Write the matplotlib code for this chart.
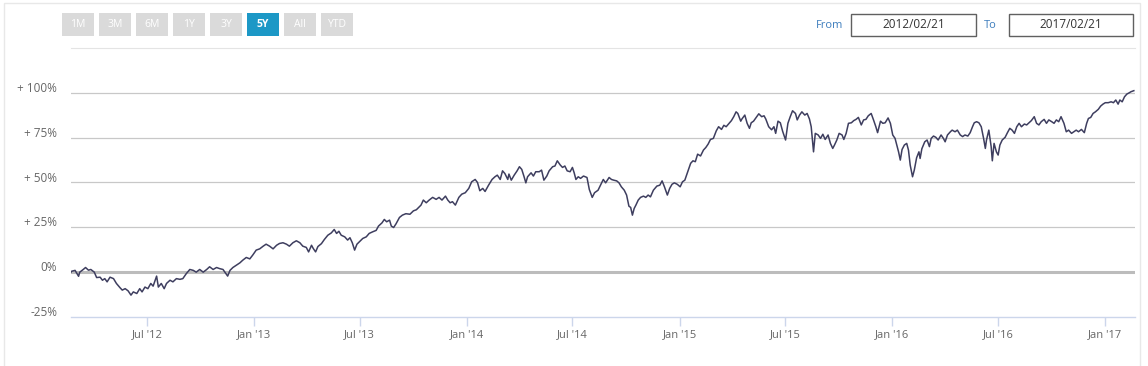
import matplotlib
matplotlib.use("Agg")
import matplotlib.dates as mdates
import matplotlib.pyplot as plt
import matplotlib.transforms as mtransforms
from matplotlib.patches import Rectangle
import pandas as pd

# cumulative performance, % vs start
start_date = "2012-02-21"
end_date = "2017-02-21"

days_2012 = [0, 1, 7, 13, 15, 21, 25, 30, 34, 40, 44, 50, 54, 58, 62, 67, 73, 78, 84, 88, 93,
             98, 103, 107, 113, 118, 122, 127, 132, 137, 141, 147, 150, 155, 160, 164, 170, 175,
             181, 187, 192, 198, 204, 210, 215, 221, 227, 233, 238, 244, 250, 255, 261, 269, 273,
             278, 284, 290, 295, 301, 307, 312, 318, 324, 330, 335, 341, 347, 353, 358]
pct_2012 = [0, 0.5, 1, -2.3, 0, 1.5, 2.6, 1.1, 1.5, 0, -3, -2.8, -4.5, -3.6, -5.4, -2.8, -3.6, -6.3,
            -8.6, -10, -9.2, -10.4, -12.8, -11, -11.9, -9.2, -11, -8.3, -9.2, -6.3, -7.8, -2.2,
            -8.3, -6.3, -9.2, -6.3, -4.5, -5.4, -3.6, -4, -3.6, -0.8, 1.5, 1, 0, 1.5, 0, 1.5, 3,
            1.5, 2.6, 2, 1.5, -2.2, 1, 2.6, 3.9, 5.2, 6.7, 8.2, 7.4, 9.5, 12.3, 13, 14.5, 15.6,
            14.5, 13, 15, 16]

days_2013 = [364, 370, 375, 381, 387, 393, 398, 404, 408, 413, 416, 420, 424, 430, 435, 441, 447,
             452, 456, 460, 464, 470, 475, 479, 483, 487, 491, 495, 501, 507, 512, 518, 524, 528,
             534, 538, 542, 547, 550, 554, 558, 564, 569, 575, 582, 588, 593, 597, 601, 605, 610,
             615, 621, 627, 632, 637, 643, 647, 651, 655, 660, 666, 671, 677, 683, 688, 694, 698,
             702, 707, 711, 717, 723, 728]
pct_2013 = [16.4, 15.6, 14.5, 16.4, 17.5, 16.4, 14.5, 13.8, 11.3, 15, 13.2, 11.3, 14.3, 15.9,
            18.2, 20.6, 21.9, 23.8, 21.6, 22.8, 20.6, 19.7, 17.9, 19.2, 16.4, 12.3, 15.6, 16.9,
            18.8, 19.7, 21.6, 22.5, 23.3, 25.7, 27.5, 29.4, 28.1, 29, 25.7, 24.9, 26.9, 30.5,
            31.8, 32.6, 32.3, 34.2, 34.8, 36.1, 37.4, 40.2, 38.7, 40.2, 41.7, 40.6, 41.7, 40.2,
            42.4, 40.2, 38.7, 39.3, 37.4, 41.7, 43.5, 44.3, 46.7, 50.4, 51.7, 50, 45.4, 46.7,
            45, 48.5, 51.7, 53.2]

days_2014 = [732, 737, 741, 745, 750, 752, 756, 761, 766, 770, 774, 778, 781, 784, 790, 794, 798,
             804, 808, 812, 817, 821, 827, 831, 835, 840, 844, 848, 852, 857, 861, 864, 867, 871,
             875, 880, 886, 890, 895, 899, 905, 910, 914, 918, 924, 928, 932, 937, 941, 945, 950,
             954, 958, 961, 964, 967, 970, 974, 978, 983, 987, 991, 995, 1000, 1006, 1011, 1015,
             1019, 1024, 1028, 1032, 1036, 1041, 1046, 1050, 1054, 1058, 1064, 1068, 1072, 1076,
             1081, 1086, 1090, 1094, 1098, 1103]
pct_2014 = [54.1, 51.7, 56.5, 55, 51.7, 54.7, 51.3, 54.1, 56.5, 58.8, 57.3, 53.2, 49.8, 53.2,
            55.4, 53.6, 56, 56, 56.9, 51.3, 53.6, 56.5, 58.8, 59.2, 62.1, 59.8, 58.4, 59.2, 56.5,
            56, 58.4, 55.4, 51.7, 53.2, 52.3, 53.6, 52.8, 46.1, 41.7, 44.3, 45.7, 49, 51.7, 49.8,
            52.8, 51.7, 51.3, 50.9, 49.8, 47.6, 45.7, 43, 36.8, 36.1, 31.8, 35.5, 37.4, 40.2,
            41.7, 42.4, 41.7, 43, 42, 45.7, 48, 48.5, 50.9, 47.6, 43, 46.7, 49, 49.8, 49, 47.6,
            50.4, 51.3, 55.1, 60.7, 62.1, 61.6, 65.8, 64.8, 68.1, 69.5, 71.4, 74, 74.6]

days_2015 = [1108, 1112, 1117, 1121, 1125, 1130, 1134, 1138, 1142, 1145, 1150, 1152, 1157, 1161,
             1165, 1168, 1172, 1176, 1181, 1186, 1190, 1193, 1198, 1203, 1207, 1210, 1214, 1218,
             1222, 1227, 1231, 1235, 1239, 1244, 1247, 1251, 1255, 1260, 1264, 1268, 1271, 1275,
             1278, 1283, 1287, 1291, 1295, 1300, 1304, 1308, 1311, 1315, 1319, 1324, 1327, 1331,
             1335, 1340, 1344, 1348, 1352, 1357, 1361, 1365, 1369, 1374, 1378, 1382, 1385, 1390,
             1394, 1398, 1403, 1407, 1411, 1415, 1418, 1421, 1424, 1427, 1431, 1435, 1438, 1441,
             1445, 1448, 1452, 1456]
pct_2015 = [78.8, 81.1, 79.6, 81.9, 81.1, 83, 84.5, 86.7, 89.4, 88.5, 84.2, 85.4, 87.6, 83, 80.2,
            83.3, 84.2, 86, 88.3, 86.7, 87.2, 85.4, 81.1, 79.4, 81.1, 77.4, 84.2, 83.3, 78.5,
            73.7, 83, 86.7, 90, 88.5, 84.9, 87.6, 89.4, 87.6, 88.5, 85.4, 81.1, 67.1, 77.4, 76.5,
            74.6, 76.9, 74, 76.5, 71.8, 69, 70.9, 73.7, 77.4, 76.5, 74, 77.4, 83, 83.3, 84.5,
            85.2, 86.3, 82.1, 84.9, 85.2, 87.2, 88.5, 84.9, 81.1, 77.8, 84.2, 83, 83.3, 86, 83,
            76.5, 74.6, 70.9, 67.1, 62.5, 68.4, 70.9, 71.8, 68.1, 59.7, 53.2, 56.9, 63.8, 67.1]

days_2016 = [1458, 1461, 1466, 1470, 1474, 1477, 1481, 1485, 1489, 1494, 1498, 1501, 1505, 1510,
             1513, 1518, 1522, 1527, 1531, 1535, 1540, 1544, 1548, 1551, 1555, 1559, 1563, 1567,
             1570, 1572, 1576, 1580, 1582, 1585, 1589, 1592, 1595, 1599, 1604, 1608, 1612, 1616,
             1620, 1624, 1628, 1632, 1637, 1641, 1645, 1649, 1654, 1658, 1662, 1666, 1671, 1675,
             1679, 1684, 1688, 1692, 1696, 1700, 1705, 1709, 1713, 1718, 1722, 1726, 1730, 1735,
             1740, 1744, 1747, 1751, 1755, 1759, 1764, 1768, 1772, 1776, 1781, 1786, 1790, 1794,
             1798, 1801, 1805, 1809, 1813, 1817, 1820, 1825]
pct_2016 = [63.4, 68.8, 72.7, 73.7, 70, 74.6, 75.9, 75.2, 73.7, 76.5, 74.6, 72.7, 76.5, 78.3,
            79.2, 78.3, 79.2, 76.5, 75.6, 76.5, 75.9, 77.8, 81.1, 83.3, 83.9, 83.3, 81.1, 74.6,
            69, 73.7, 79.2, 70, 62.1, 71.8, 67.1, 65.3, 70.9, 73.7, 75.2, 77.8, 80.2, 79.2, 77.4,
            81.1, 83, 81.1, 82.6, 82.1, 83.3, 84.5, 86.7, 83, 82.1, 83.9, 85.2, 83, 84.9, 83.9,
            83, 84.9, 83.9, 86.7, 83, 78.3, 79.2, 77.4, 78.3, 79.2, 78.3, 79.6, 77.8, 83, 85.7,
            86.3, 88.5, 89.4, 90.8, 92.6, 93.7, 94.5, 94.5, 95, 94.5, 96, 93.7, 96, 95, 97.8,
            99.3, 100, 100.6, 101.2]

y_ticks = [-25, 0, 25, 50, 75, 100]
y_labels = ["-25%", "0%", "+ 25%", "+ 50%", "+ 75%", "+ 100%"]
range_buttons = ["1M", "3M", "6M", "1Y", "3Y", "5Y", "All", "YTD"]
selected_button = "5Y"
from_label = "2012/02/21"
to_label = "2017/02/21"

days = days_2012 + days_2013 + days_2014 + days_2015 + days_2016
pct = pct_2012 + pct_2013 + pct_2014 + pct_2015 + pct_2016
dates = pd.Timestamp(start_date) + pd.to_timedelta(days, unit="D")

W, H = 1148, 366
plt.rcParams["font.family"] = ["Open Sans", "DejaVu Sans"]


def px_box(x0, y0, x1, y1):
    # pixel box (top-left origin) -> figure fraction [left, bottom, width, height]
    return [x0 / W, 1 - y1 / H, (x1 - x0) / W, (y1 - y0) / H]


fig = plt.figure(figsize=(W / 100, H / 100), dpi=100)
fig.patch.set_facecolor("white")

# outer frame
fig.add_artist(Rectangle((4 / W, -0.1), (1140 - 4) / W, 1.1 - 3 / H, transform=fig.transFigure,
                         fill=False, edgecolor="#e8e8e8", lw=1))

ax = fig.add_axes(px_box(71, 48, 1135, 317))
ax.set_xlim(pd.Timestamp(start_date), pd.Timestamp(end_date))
ax.set_ylim(-25, 125)

for v in y_ticks[2:]:
    ax.axhline(v, color="#c8c8c8", lw=0.9, zorder=1)
ax.axhline(0, color="#bcbcbc", lw=2.2, zorder=1)

ax.plot(dates, pct, color="#3e3e5f", lw=1.1, zorder=3)

for side in ["left", "right"]:
    ax.spines[side].set_visible(False)
ax.spines["top"].set_color("#e4e4e4")
ax.spines["top"].set_linewidth(0.8)
ax.spines["bottom"].set_color("#ccd6eb")
ax.spines["bottom"].set_linewidth(1)

ax.set_yticks(y_ticks)
ax.set_yticklabels(y_labels)
ax.tick_params(axis="y", length=0, pad=10, labelsize=8.5, labelcolor="#666666")
shift_up = mtransforms.ScaledTranslation(0, 6 / 100, fig.dpi_scale_trans)
for lab in ax.get_yticklabels():
    lab.set_transform(lab.get_transform() + shift_up)

ax.xaxis.set_major_locator(mdates.MonthLocator(bymonth=[1, 7]))
ax.xaxis.set_major_formatter(mdates.DateFormatter("%b '%y"))
ax.tick_params(axis="x", length=6.5, width=1, color="#ccd6eb", pad=2.5, labelsize=8,
               labelcolor="#666666")

# range selector buttons
for i, name in enumerate(range_buttons):
    x0 = 62 + 37 * i
    active = name == selected_button
    fig.add_artist(Rectangle((x0 / W, 1 - 36 / H), 32 / W, 23 / H, transform=fig.transFigure,
                             facecolor="#1c98c6" if active else "#dadada", edgecolor="none"))
    fig.text((x0 + 16) / W, 1 - 24.5 / H, name, ha="center", va="center", fontsize=7.5,
             color="white", fontweight="bold" if active else "normal")

# date inputs
fig.text(830 / W, 1 - 25 / H, "From", ha="center", va="center", fontsize=8, color="#3d7dbd")
fig.text(990 / W, 1 - 25 / H, "To", ha="center", va="center", fontsize=8, color="#3d7dbd")
for (x0, x1), label in [((851, 976), from_label), ((1009, 1133), to_label)]:
    fig.add_artist(Rectangle((x0 / W, 1 - 36 / H), (x1 - x0) / W, 22 / H,
                             transform=fig.transFigure, facecolor="white",
                             edgecolor="#606060", lw=1))
    fig.text((x0 + x1) / 2 / W, 1 - 25 / H, label, ha="center", va="center", fontsize=8.5,
             color="#333333")

fig.savefig("out.png", dpi=100)
